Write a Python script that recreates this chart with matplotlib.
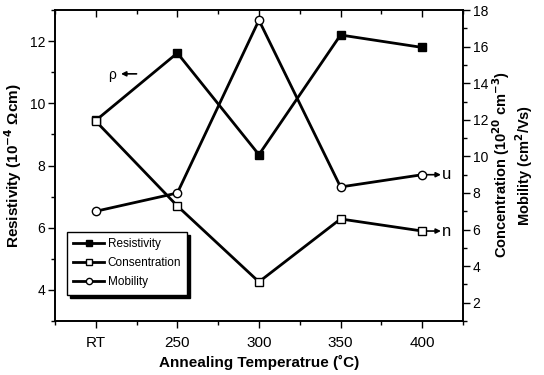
import matplotlib.pyplot as plt
from matplotlib.ticker import MultipleLocator

plt.rcParams['font.family'] = ['Liberation Sans', 'DejaVu Sans']

temps = ['RT', '250', '300', '350', '400']
resistivity = [9.45, 11.62, 8.35, 12.2, 11.8]      # 10^-4 ohm cm, left axis
concentration = [11.93, 7.29, 3.14, 6.58, 5.92]    # 10^20 cm^-3, right axis
mobility = [7.0, 8.0, 17.45, 8.33, 9.0]            # cm^2/Vs, right axis

x = list(range(len(temps)))

fig = plt.figure(figsize=(5.44, 3.75), dpi=100)
ax = fig.add_axes([0.101, 0.144, 0.75, 0.829])
ax2 = ax.twinx()

l1, = ax.plot(x, resistivity, color='black', lw=2, marker='s', ms=6,
              mfc='black', mec='black', label='Resistivity')
l2, = ax2.plot(x, concentration, color='black', lw=2, marker='s', ms=6,
               mfc='white', mec='black', mew=1, label='Consentration')
l3, = ax2.plot(x, mobility, color='black', lw=2, marker='o', ms=6,
               mfc='white', mec='black', mew=1, label='Mobility')

ax.set_xlim(-0.5, 4.5)
ax.set_ylim(3, 13)
ax2.set_ylim(1, 18)

ax.set_xticks(x)
ax.set_xticklabels(temps)
ax.xaxis.set_minor_locator(MultipleLocator(0.5))
ax.yaxis.set_major_locator(MultipleLocator(2))
ax.yaxis.set_minor_locator(MultipleLocator(1))
ax2.yaxis.set_major_locator(MultipleLocator(2))
ax2.yaxis.set_minor_locator(MultipleLocator(1))

ax.tick_params(axis='x', which='both', direction='out', top=True, labelsize=11, pad=6)
ax.tick_params(axis='x', which='major', length=5, width=1)
ax.tick_params(axis='x', which='minor', length=3, width=1)
ax.tick_params(axis='y', which='major', direction='out', length=5, width=1, labelsize=10, pad=2)
ax.tick_params(axis='y', which='minor', direction='out', length=3, width=1)
ax2.tick_params(axis='y', which='major', direction='out', length=5, width=1, labelsize=10, pad=2)
ax2.tick_params(axis='y', which='minor', direction='out', length=3, width=1)
# top ticks point inward
for t in ax.xaxis.get_major_ticks() + ax.xaxis.get_minor_ticks():
    t.tick2line.set_marker(3)

for sp in ax.spines.values():
    sp.set_linewidth(1.2)
for sp in ax2.spines.values():
    sp.set_linewidth(1.2)

ax.set_xlabel('Annealing Temperatrue (\u02daC)', fontsize=11, fontweight='bold', labelpad=3)
ax.set_ylabel('Resistivity (10$^{\\mathbf{-4}}$ \u03a9cm)', fontsize=11, fontweight='bold', labelpad=4)
fig.text(0.922, 0.56, 'Concentration (10$^{\\mathbf{20}}$ cm$^{\\mathbf{-3}}$)', rotation=90,
         fontsize=10.5, fontweight='bold', ha='center', va='center')
fig.text(0.963, 0.56, 'Mobility (cm$^{\\mathbf{2}}$/Vs)', rotation=90,
         fontsize=10.5, fontweight='bold', ha='center', va='center')

arrow = dict(arrowstyle='-|>', color='black', lw=1.2, mutation_scale=7,
             shrinkA=0, shrinkB=0)
ax.annotate('', xy=(0.31, 10.95), xytext=(0.5, 10.95), arrowprops=arrow)
ax.text(0.2, 10.9, '\u03c1', fontsize=10, ha='center', va='center')
ax2.annotate('', xy=(4.23, mobility[4]), xytext=(4.06, mobility[4]), arrowprops=arrow)
ax2.text(4.3, mobility[4], 'u', fontsize=12, ha='center', va='center')
ax2.annotate('', xy=(4.23, concentration[4]), xytext=(4.06, concentration[4]), arrowprops=arrow)
ax2.text(4.3, concentration[4], 'n', fontsize=12, ha='center', va='center')

leg = ax2.legend(handles=[l1, l2, l3], loc='lower left', bbox_to_anchor=(0.029, 0.084),
                 borderaxespad=0, fontsize=8.5, frameon=True, fancybox=False,
                 shadow={'color': 'black', 'alpha': 1}, handlelength=2.6,
                 handletextpad=0.3, labelspacing=0.6, borderpad=0.55, framealpha=1,
                 markerscale=0.75)
leg.get_frame().set_edgecolor('black')
leg.get_frame().set_linewidth(1)

fig.savefig('out.png', dpi=100)
